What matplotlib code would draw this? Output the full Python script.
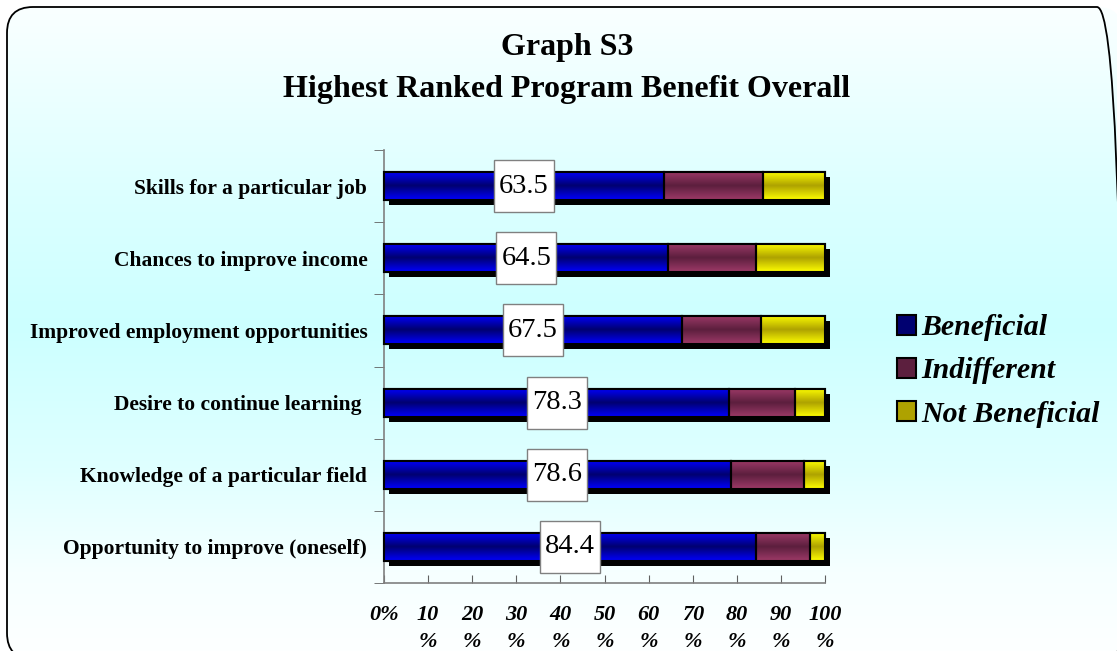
import numpy as np
import matplotlib
matplotlib.use("Agg")
import matplotlib.pyplot as plt
import matplotlib.transforms as mtransforms
from matplotlib.patches import Patch, FancyBboxPatch, Rectangle
from matplotlib.colors import LinearSegmentedColormap

# datos
categories = ["Skills for a particular job",
              "Chances to improve income",
              "Improved employment opportunities",
              "Desire to continue learning ",
              "Knowledge of a particular field",
              "Opportunity to improve (oneself)"]
beneficial = [63.5, 64.5, 67.5, 78.3, 78.6, 84.4]
indifferent = [22.4, 19.9, 17.9, 14.9, 16.6, 12.3]
not_beneficial = [14.1, 15.6, 14.6, 6.8, 4.8, 3.3]
series_names = ["Beneficial", "Indifferent", "Not Beneficial"]
xticks = [0, 10, 20, 30, 40, 50, 60, 70, 80, 90, 100]
xtick_labels = ["0%"] + [str(v) + "\n%" for v in xticks[1:]]

serif = "Liberation Serif"
W, H = 1117, 651
fig = plt.figure(figsize=(W / 100, H / 100), dpi=100)
fig.patch.set_facecolor("white")

# fondo con degradado y borde redondeado (coordenadas en pixeles)
frame = FancyBboxPatch((7, -8), 1116, 652,
                       boxstyle="round,pad=0,rounding_size=26",
                       facecolor="none", edgecolor="black", lw=1.3,
                       transform=mtransforms.IdentityTransform(), zorder=10)
bg_cmap = LinearSegmentedColormap.from_list(
    "bg", [(0, "#fbffff"), (0.3, "#dcffff"), (0.5, "#ccffff"),
           (0.72, "#dfffff"), (0.88, "#f6ffff"), (1, "#fdffff")])
bg = fig.add_axes([0, 0, 1, 1], zorder=-5)
bg.axis("off")
grad = np.linspace(0, 1, 256).reshape(-1, 1)
im = bg.imshow(grad, cmap=bg_cmap, extent=[0, 1, 0, 1], aspect="auto", origin="upper")
im.set_clip_path(frame)
bg.set_xlim(0, 1)
bg.set_ylim(0, 1)
fig.patches.append(frame)

# ejes principales
ax = fig.add_axes([384 / W, 1 - 583 / H, 441 / W, 433 / H])
ax.set_facecolor("none")
y = np.arange(len(categories))
h = 0.39

# sombra de las barras
shadow = mtransforms.offset_copy(ax.transData, fig=fig, x=5, y=-5, units="dots")
totals = [b + i + n for b, i, n in zip(beneficial, indifferent, not_beneficial)]
ax.barh(y, totals, height=h, color="black", transform=shadow, zorder=1, clip_on=False)

grads = {
    "Beneficial": ["#0000ff", "#000070", "#0000ff"],
    "Indifferent": ["#9e3a68", "#5c1f3e", "#9e3a68"],
    "Not Beneficial": ["#ffff00", "#aea200", "#ffff00"],
}
lefts = np.zeros(len(categories))
for name, vals in zip(series_names, [beneficial, indifferent, not_beneficial]):
    bars = ax.barh(y, vals, left=lefts, height=h, color=grads[name][1],
                   edgecolor="black", lw=1.5, zorder=2, clip_on=False)
    cm = LinearSegmentedColormap.from_list(name, grads[name])
    for bar in bars:
        x0, y0 = bar.get_x(), bar.get_y()
        g = ax.imshow(grad, cmap=cm, extent=[x0, x0 + bar.get_width(), y0 + bar.get_height(), y0],
                      aspect="auto", zorder=2.5, interpolation="bilinear")
        g.set_clip_path(bar)
    # contorno encima del degradado
    ax.barh(y, vals, left=lefts, height=h, color="none", edgecolor="black", lw=1.5,
            zorder=3, clip_on=False)
    lefts += np.array(vals)

# etiquetas de valor
bw, bh = 13.6, 0.72
for yi, b in zip(y, beneficial):
    ax.add_patch(Rectangle((b / 2 - bw / 2, yi - bh / 2), bw, bh, fc="white",
                           ec="#808080", lw=1, zorder=4))
    ax.text(b / 2, yi, f"{b:.1f}", ha="center", va="center", fontsize=20.5,
            family=serif, zorder=5)

ax.set_xlim(0, 100)
ax.set_ylim(len(categories) - 0.5, -0.5)
ax.set_xticks(xticks)
ax.set_xticklabels(xtick_labels, fontsize=16, family=serif, fontweight="bold",
                   fontstyle="italic", va="top", linespacing=1.45)
ax.tick_params(axis="x", direction="in", length=6, color="#606060", pad=16)
ax.set_yticks(y)
ax.set_yticklabels(categories, fontsize=15.5, family=serif, fontweight="bold")
ax.tick_params(axis="y", length=0, pad=12)
ax.set_yticks(np.arange(-0.5, len(categories)), minor=True)
ax.tick_params(axis="y", which="minor", direction="out", length=7, color="#606060")
for s in ["top", "right"]:
    ax.spines[s].set_visible(False)
for s in ["left", "bottom"]:
    ax.spines[s].set_color("#808080")
    ax.spines[s].set_linewidth(1.2)

# título
fig.text(567 / W, 1 - 48 / H, "Graph S3", ha="center", va="center",
         fontsize=23, fontweight="bold", family=serif)
fig.text(567 / W, 1 - 90 / H, "Highest Ranked Program Benefit Overall", ha="center",
         va="center", fontsize=23, fontweight="bold", family=serif)

# leyenda
handles = [Patch(facecolor=grads[n][1], edgecolor="black", lw=1.5) for n in series_names]
fig.legend(handles, series_names, loc="center left", bbox_to_anchor=(897 / W, 1 - 371 / H),
           frameon=False, prop=dict(family=serif, size=21.5, weight="bold", style="italic"),
           handlelength=0.65, handleheight=0.65, handletextpad=0.15, labelspacing=0.55,
           borderpad=0, borderaxespad=0)

fig.savefig("out.png", dpi=100)
